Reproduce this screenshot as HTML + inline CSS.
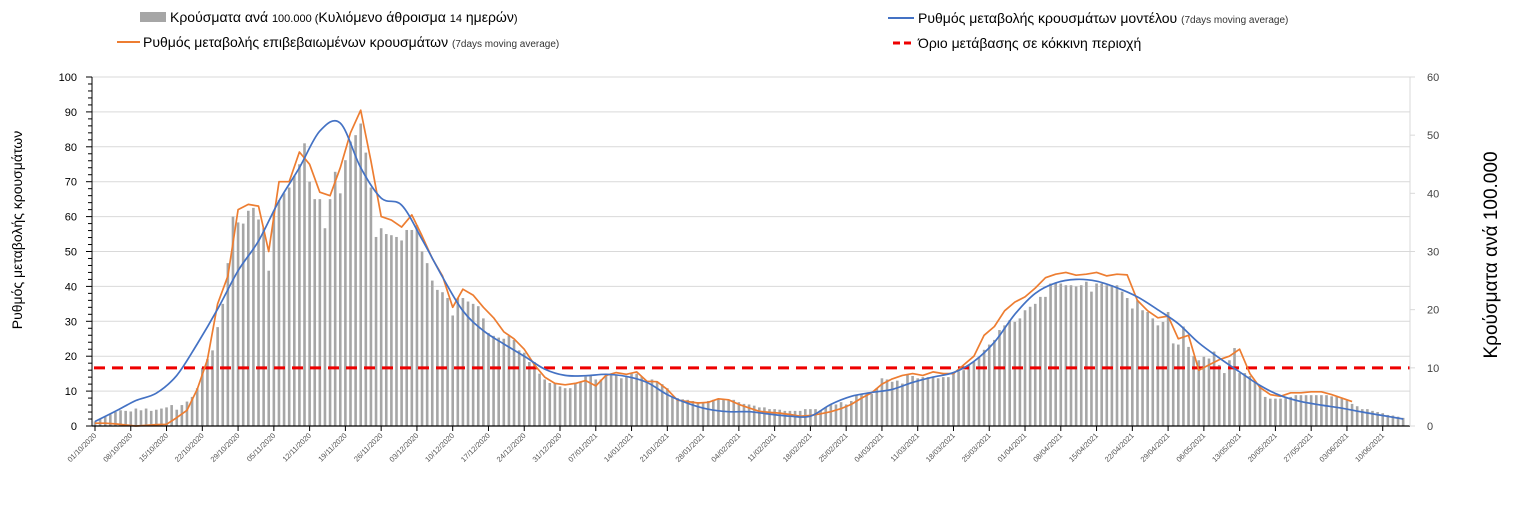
<!DOCTYPE html>
<html><head><meta charset="utf-8">
<style>
html,body{margin:0;padding:0;background:#fff;}
body{width:1513px;height:505px;overflow:hidden;font-family:"Liberation Sans Narrow","Liberation Sans","DejaVu Sans",sans-serif;}
svg text{font-family:"Liberation Sans Narrow","Liberation Sans","DejaVu Sans",sans-serif;}
</style></head>
<body>
<svg id="chart" width="1513" height="505" xmlns="http://www.w3.org/2000/svg">
  <g>
    <g>
      <rect x="140" y="12" width="26" height="10" fill="#a6a6a6"/>
      <text x="170" y="22" font-size="14" fill="#000">Κρούσματα ανά <tspan font-size="11">100.000 (</tspan>Κυλιόμενο άθροισμα <tspan font-size="11">14</tspan> ημερών<tspan font-size="11">)</tspan></text>
    </g>
    <g>
      <line x1="117" y1="42" x2="140" y2="42" stroke="#ed7d31" stroke-width="2"/>
      <text x="143" y="47" font-size="14" fill="#000">Ρυθμός μεταβολής επιβεβαιωμένων κρουσμάτων <tspan font-size="10" fill="#333">(7days moving average)</tspan></text>
    </g>
    <g>
      <line x1="888" y1="18" x2="914" y2="18" stroke="#4472c4" stroke-width="2"/>
      <text x="918" y="23" font-size="14" fill="#000">Ρυθμός μεταβολής κρουσμάτων μοντέλου <tspan font-size="10" fill="#333">(7days moving average)</tspan></text>
    </g>
    <g>
      <line x1="893" y1="43" x2="914" y2="43" stroke="#e00" stroke-width="3" stroke-dasharray="7,4"/>
      <text x="918" y="48" font-size="14" fill="#000">Όριο μετάβασης σε κόκκινη περιοχή</text>
    </g>
  </g>
  <text transform="translate(22,230) rotate(-90)" text-anchor="middle" font-size="14" fill="#000">Ρυθμός μεταβολής κρουσμάτων</text>
  <text transform="translate(1497,255) rotate(-90)" text-anchor="middle" font-size="19" fill="#000">Κρούσματα ανά 100.000</text>
  <g id="grid"></g>
  <g id="bars"></g>
  <g id="lines"></g>
  <g id="axes"></g>
</svg>
<script>
const barValues = [
0.8,1.2,1.6,2,2.4,2.7,2.6, 2.5,3,2.7,3,2.6,2.8,3, 3.2,3.6,2.8,3.6,4.2,5,6.5,
10,11.5,13,17,21,28,36, 35,34.8,37,37.5,35.5,34,26.7, 37,38.8,40,41,43,45,48.6,
42,39,39,34,39,43.7,40, 45.7,48.9,50,52,47,41,32.5, 34,33,32.8,32.5,31.9,33.7,33.7,
34.5,30,28,25,23.4,23,22, 19,22,22,21.4,21,20.6,18.5, 16,15.5,15.2,15,15.5,14.8,13,
12.6,11,11,9,8,7.4,7.3, 6.8,6.5,6.5,7.3,7.6,8.5,8.7, 8,8,9,9,8.7,8.2,8.5,
9,9,8.5,7.6,8,7.6,7.2, 6.5,5,4.8,4.6,4.5,4.3,4.1, 4.1,4.3,4.5,4.6,4.6,4.5,4.5,
4.1,3.8,3.7,3.5,3.2,3.2,2.9, 2.9,2.8,2.6,2.6,2.6,2.6,2.9, 2.9,2.9,2.7,3.2,3.7,3.7,4.1,
3.7,4.3,5.3,5.5,5.5,5.5,6.5, 8.2,8,7.6,7.8,7.3,8.9,8.6, 8.2,8.4,8.4,8.4,8.2,8.4,8.4,
9.1,9.4,9.6,10.5,11,11.9,13.1, 14,14.8,16.5,17.3,18.2,17.9,18.5, 19.9,20.5,21,22.2,22.2,24.5,24.5,
24.5,24.2,24.2,24,24.2,24.8,23.1, 24.5,24.5,24.2,24.2,24.2,23.1,22, 20.2,21.6,19.9,19.6,18.5,17.3,17.9,
19.6,14.2,14,17.1,13.6,12,11.3, 11.9,11.6,12.8,10.5,9.1,11.3,13.4, 9.1,9.1,8.6,7.5,6.9,5,4.7,
4.7,4.7,4.8,5,5.3,5.3,5.3, 5.3,5.3,5.3,5.3,5.1,5,4.7, 4.4,3.8,3.4,2.9,2.9,2.6,2.4,
2.2,1.9,1.8,1.6,1.4];
const ORANGE_STEP_DAYS = 2;
const orangeValues = [
0.8,0.8,0.6,0.3,0,0.2,0.4,0.5,2.4,4.5,
10.5,19,35,43,62,63.5,63,50,70,70,
78.5,75,67,66,74,84,90.5,76,60,59,
57,60.5,54.5,48,43,34,39.2,37.5,34,31,
27,25,22,17.5,14,12.2,11.8,12.2,13,11.5,
14.5,15.3,14.8,15.5,12.8,12.7,10.5,7.4,7,6.6,
6.8,7.8,7.5,6.2,5.2,4.2,3.9,3.7,3.3,2.8,
3,3.5,4.1,5,6.2,8,9.5,12,13.5,14.5,
15,14.5,15.5,15,15,17.5,20,26,28.5,33,
35.5,37,39.5,42.5,43.5,44,43.2,43.5,44,43,
43.5,43.3,36,33,31,31.5,25,26,16,17.5,
19,20,22,15,11,9,8.5,9.5,9.5,9.8,
9.8,9,8,7];
const BLUE_STEP_DAYS = 4;
const blueValues = [
1.3,4.2,7.3,9.4,14.5,23.5,33.5,44.5,53,64.5,
74,84.5,86.8,74,65.3,63.3,53.5,42.7,33,27.3,
23.5,20,16.3,14.5,14.4,14.8,14.2,12.5,9,6.5,
4.8,4.1,4.1,3.4,2.8,2.8,6.2,8.5,9.6,10.5,
12.5,14,15.3,18.5,24,32,38,41,42,41.5,
39.6,37,33.3,29.3,23.8,19.5,15.5,11.6,8.7,7,
6,5.1,4,3,2];
const thresholdValue = [10];
const leftTicks = [0,10,20,30,40,50,60,70,80,90,100];
const rightTicks = [0,10,20,30,40,50,60];
const dateLabels = ["01/10/2020","08/10/2020","15/10/2020","22/10/2020","29/10/2020","05/11/2020","12/11/2020","19/11/2020","26/11/2020","03/12/2020","10/12/2020","17/12/2020","24/12/2020","31/12/2020","07/01/2021","14/01/2021","21/01/2021","28/01/2021","04/02/2021","11/02/2021","18/02/2021","25/02/2021","04/03/2021","11/03/2021","18/03/2021","25/03/2021","01/04/2021","08/04/2021","15/04/2021","22/04/2021","29/04/2021","06/05/2021","13/05/2021","20/05/2021","27/05/2021","03/06/2021","10/06/2021"];

const NS="http://www.w3.org/2000/svg";
const X0=95, PX_PER_DAY=5.11, Y0=426, PLOT_L=92, PLOT_R=1410;
const xDay = d => X0 + d*PX_PER_DAY;
const yLeft = v => Y0 - v*(349/100);
const yRight = v => Y0 - v*(349/60);
function mk(tag, attrs, parent){const e=document.createElementNS(NS,tag);for(const k in attrs)e.setAttribute(k,attrs[k]);parent.appendChild(e);return e;}

const grid=document.getElementById('grid');
leftTicks.forEach(t=>{ if(t===0) return;
  const l=mk('line',{x1:PLOT_L,x2:PLOT_R,y1:yLeft(t),y2:yLeft(t),stroke:'#d9d9d9','stroke-width':1},grid);
  
  
});

const bars=document.getElementById('bars');
barValues.forEach((v,i)=>{
  const y=yRight(v);
  const r=mk('rect',{x:xDay(i)-1.3,y:y,width:2.6,height:Y0-y,fill:'#a6a6a6'},bars);
  
  
});

const lines=document.getElementById('lines');
const th=mk('line',{x1:PLOT_L+2,x2:PLOT_R,y1:yRight(thresholdValue[0]),y2:yRight(thresholdValue[0]),stroke:'#e00','stroke-width':3,'stroke-dasharray':'11,7'},lines);



const op=orangeValues.map((v,i)=>[xDay(i*ORANGE_STEP_DAYS),yLeft(v)]);
const orange=mk('polyline',{points:op.map(p=>p[0].toFixed(1)+','+p[1].toFixed(1)).join(' '),fill:'none',stroke:'#ed7d31','stroke-width':1.7,'stroke-linejoin':'round'},lines);



const bp=blueValues.map((v,i)=>[xDay(i*BLUE_STEP_DAYS),yLeft(v)]);
let d='M'+bp[0][0]+','+bp[0][1];
for(let i=0;i<bp.length-1;i++){
  const p0=bp[Math.max(0,i-1)],p1=bp[i],p2=bp[i+1],p3=bp[Math.min(bp.length-1,i+2)];
  const c1x=p1[0]+(p2[0]-p0[0])/6,c1y=p1[1]+(p2[1]-p0[1])/6;
  const c2x=p2[0]-(p3[0]-p1[0])/6,c2y=p2[1]-(p3[1]-p1[1])/6;
  d+=' C'+c1x.toFixed(1)+','+c1y.toFixed(1)+' '+c2x.toFixed(1)+','+c2y.toFixed(1)+' '+p2[0].toFixed(1)+','+p2[1].toFixed(1);
}
const blue=mk('path',{d:d,fill:'none',stroke:'#4472c4','stroke-width':1.7},lines);



const axes=document.getElementById('axes');
mk('line',{x1:PLOT_L,x2:PLOT_L,y1:yLeft(100),y2:Y0,stroke:'#000','stroke-width':1},axes);
mk('line',{x1:PLOT_L,x2:PLOT_R,y1:Y0,y2:Y0,stroke:'#000','stroke-width':1.2},axes);
mk('line',{x1:PLOT_R,x2:PLOT_R,y1:yRight(60),y2:Y0,stroke:'#d9d9d9','stroke-width':1},axes);
for(let t=0;t<=100;t+=2){
  mk('line',{x1:(t%10===0?PLOT_L-6:PLOT_L-4),x2:PLOT_L,y1:yLeft(t),y2:yLeft(t),stroke:'#000','stroke-width':1},axes);
}
leftTicks.forEach(t=>{
  const tx=mk('text',{x:77,y:yLeft(t)+4,'text-anchor':'end','font-size':11,fill:'#000'},axes);
  tx.textContent=t;
  
  
});
rightTicks.forEach(t=>{
  mk('line',{x1:PLOT_R,x2:PLOT_R+5,y1:yRight(t),y2:yRight(t),stroke:'#d9d9d9','stroke-width':1},axes);
  const tx=mk('text',{x:1427,y:yRight(t)+4,'text-anchor':'start','font-size':11,fill:'#444'},axes);
  tx.textContent=t;
  
  
});
dateLabels.forEach((lab,k)=>{
  const x=xDay(k*7);
  mk('line',{x1:x,x2:x,y1:Y0,y2:Y0+5,stroke:'#000','stroke-width':1},axes);
  const tx=mk('text',{x:x+2,y:Y0+10,'text-anchor':'end','font-size':7.5,fill:'#555',transform:'rotate(-45 '+(x+2)+' '+(Y0+10)+')'},axes);
  tx.textContent=lab;
  
  
});
</script>
</body></html>
